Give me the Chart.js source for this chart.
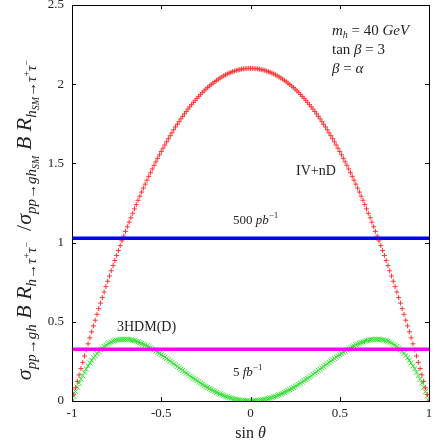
<!DOCTYPE html>
<html>
<head>
<meta charset="utf-8">
<script src="https://cdn.jsdelivr.net/npm/chart.js@4.4.1/dist/chart.umd.min.js"></script>
<style>
  body { margin: 0; background: #fff; }
  #wrap { width: 436px; height: 440px; }
</style>
</head>
<body>
<div id="wrap"><canvas id="grafico" width="436" height="440"></canvas></div>
<script>
// valores (eje x = sin theta)
const sinTheta = [
  -1,-0.99,-0.98,-0.97,-0.96,-0.95,-0.94,-0.93,-0.92,-0.91,
  -0.9,-0.89,-0.88,-0.87,-0.86,-0.85,-0.84,-0.83,-0.82,-0.81,
  -0.8,-0.79,-0.78,-0.77,-0.76,-0.75,-0.74,-0.73,-0.72,-0.71,
  -0.7,-0.69,-0.68,-0.67,-0.66,-0.65,-0.64,-0.63,-0.62,-0.61,
  -0.6,-0.59,-0.58,-0.57,-0.56,-0.55,-0.54,-0.53,-0.52,-0.51,
  -0.5,-0.49,-0.48,-0.47,-0.46,-0.45,-0.44,-0.43,-0.42,-0.41,
  -0.4,-0.39,-0.38,-0.37,-0.36,-0.35,-0.34,-0.33,-0.32,-0.31,
  -0.3,-0.29,-0.28,-0.27,-0.26,-0.25,-0.24,-0.23,-0.22,-0.21,
  -0.2,-0.19,-0.18,-0.17,-0.16,-0.15,-0.14,-0.13,-0.12,-0.11,
  -0.1,-0.09,-0.08,-0.07,-0.06,-0.05,-0.04,-0.03,-0.02,-0.01,
  0,
  0.01,0.02,0.03,0.04,0.05,0.06,0.07,0.08,0.09,0.1,
  0.11,0.12,0.13,0.14,0.15,0.16,0.17,0.18,0.19,0.2,
  0.21,0.22,0.23,0.24,0.25,0.26,0.27,0.28,0.29,0.3,
  0.31,0.32,0.33,0.34,0.35,0.36,0.37,0.38,0.39,0.4,
  0.41,0.42,0.43,0.44,0.45,0.46,0.47,0.48,0.49,0.5,
  0.51,0.52,0.53,0.54,0.55,0.56,0.57,0.58,0.59,0.6,
  0.61,0.62,0.63,0.64,0.65,0.66,0.67,0.68,0.69,0.7,
  0.71,0.72,0.73,0.74,0.75,0.76,0.77,0.78,0.79,0.8,
  0.81,0.82,0.83,0.84,0.85,0.86,0.87,0.88,0.89,0.9,
  0.91,0.92,0.93,0.94,0.95,0.96,0.97,0.98,0.99,1
];

// IV+nD (cruces rojas)
const ivnD = [
  0.000,0.042,0.083,0.124,0.165,0.205,0.244,0.284,0.323,0.361,
  0.399,0.437,0.474,0.510,0.547,0.583,0.618,0.653,0.688,0.722,
  0.756,0.789,0.822,0.855,0.887,0.919,0.950,0.981,1.011,1.041,
  1.071,1.100,1.129,1.157,1.185,1.213,1.240,1.267,1.293,1.319,
  1.344,1.369,1.394,1.418,1.441,1.465,1.488,1.510,1.532,1.554,
  1.575,1.596,1.616,1.636,1.656,1.675,1.693,1.712,1.730,1.747,
  1.764,1.781,1.797,1.813,1.828,1.843,1.857,1.871,1.885,1.898,
  1.911,1.923,1.935,1.947,1.958,1.969,1.979,1.989,1.998,2.007,
  2.016,2.024,2.032,2.039,2.046,2.053,2.059,2.065,2.070,2.075,
  2.079,2.083,2.087,2.090,2.092,2.095,2.097,2.098,2.099,2.100,
  2.100,
  2.100,2.099,2.098,2.097,2.095,2.092,2.090,2.087,2.083,2.079,
  2.075,2.070,2.065,2.059,2.053,2.046,2.039,2.032,2.024,2.016,
  2.007,1.998,1.989,1.979,1.969,1.958,1.947,1.935,1.923,1.911,
  1.898,1.885,1.871,1.857,1.843,1.828,1.813,1.797,1.781,1.764,
  1.747,1.730,1.712,1.693,1.675,1.656,1.636,1.616,1.596,1.575,
  1.554,1.532,1.510,1.488,1.465,1.441,1.418,1.394,1.369,1.344,
  1.319,1.293,1.267,1.240,1.213,1.185,1.157,1.129,1.100,1.071,
  1.041,1.011,0.981,0.950,0.919,0.887,0.855,0.822,0.789,0.756,
  0.722,0.688,0.653,0.618,0.583,0.547,0.510,0.474,0.437,0.399,
  0.361,0.323,0.284,0.244,0.205,0.165,0.124,0.083,0.042,0.000
];

// 3HDM(D) (aspas verdes)
const hdm3D = [
  0.000,0.030,0.059,0.087,0.113,0.137,0.160,0.182,0.203,0.222,
  0.240,0.257,0.273,0.287,0.300,0.313,0.324,0.334,0.344,0.352,
  0.359,0.366,0.372,0.377,0.381,0.384,0.386,0.388,0.389,0.390,
  0.390,0.389,0.388,0.386,0.384,0.381,0.377,0.373,0.369,0.364,
  0.359,0.354,0.348,0.342,0.336,0.329,0.322,0.315,0.308,0.300,
  0.293,0.285,0.277,0.268,0.260,0.252,0.243,0.235,0.227,0.218,
  0.210,0.201,0.193,0.184,0.176,0.168,0.159,0.151,0.143,0.136,
  0.128,0.120,0.113,0.105,0.098,0.091,0.085,0.078,0.072,0.066,
  0.060,0.054,0.049,0.044,0.039,0.034,0.030,0.026,0.022,0.019,
  0.015,0.013,0.010,0.008,0.006,0.004,0.002,0.001,0.001,0.000,
  0.000,
  0.000,0.001,0.001,0.002,0.004,0.006,0.008,0.010,0.013,0.015,
  0.019,0.022,0.026,0.030,0.034,0.039,0.044,0.049,0.054,0.060,
  0.066,0.072,0.078,0.085,0.091,0.098,0.105,0.113,0.120,0.128,
  0.136,0.143,0.151,0.159,0.168,0.176,0.184,0.193,0.201,0.210,
  0.218,0.227,0.235,0.243,0.252,0.260,0.268,0.277,0.285,0.293,
  0.300,0.308,0.315,0.322,0.329,0.336,0.342,0.348,0.354,0.359,
  0.364,0.369,0.373,0.377,0.381,0.384,0.386,0.388,0.389,0.390,
  0.390,0.389,0.388,0.386,0.384,0.381,0.377,0.372,0.366,0.359,
  0.352,0.344,0.334,0.324,0.313,0.300,0.287,0.273,0.257,0.240,
  0.222,0.203,0.182,0.160,0.137,0.113,0.087,0.059,0.030,0.000
];

// lineas horizontales de sensibilidad
const lineaX = [-1, 1];
const lumi500pb = [1.028, 1.028];
const lumi5fb = [0.327, 0.327];

const xTicks = [-1, -0.5, 0, 0.5, 1];
const yTicks = [0, 0.5, 1, 1.5, 2, 2.5];

const SERIF = '"Liberation Serif", "DejaVu Serif", serif';

function puntos(xs, ys) {
  return xs.map((x, i) => ({ x: x, y: ys[i] }));
}

// texto con subindices / superindices
// partes: [texto, tamaño, desplazamiento vertical, cursiva]
function textoRico(ctx, partes, x, y, align, angulo) {
  ctx.save();
  ctx.translate(x, y);
  if (angulo) ctx.rotate(angulo);
  ctx.textBaseline = "alphabetic";
  ctx.textAlign = "left";
  let ancho = 0;
  for (const p of partes) {
    ctx.font = (p[3] ? "italic " : "") + p[1] + "px " + SERIF;
    ancho += ctx.measureText(p[0]).width;
  }
  let cx = align === "center" ? -ancho / 2 : 0;
  for (const p of partes) {
    ctx.font = (p[3] ? "italic " : "") + p[1] + "px " + SERIF;
    ctx.fillText(p[0], cx, p[2]);
    cx += ctx.measureText(p[0]).width;
  }
  ctx.restore();
}

const marcoYTextos = {
  id: "marcoYTextos",
  afterDraw(chart) {
    const ctx = chart.ctx;
    const a = chart.chartArea;
    const sx = chart.scales.x;
    const sy = chart.scales.y;

    // marco
    ctx.save();
    ctx.strokeStyle = "#000";
    ctx.lineWidth = 1;
    ctx.strokeRect(Math.round(a.left) + 0.5, Math.round(a.top) + 0.5,
      Math.round(a.right - a.left), Math.round(a.bottom - a.top));

    // marcas hacia dentro, en los cuatro lados
    const L = 4;
    ctx.beginPath();
    for (const v of xTicks) {
      const px = Math.round(sx.getPixelForValue(v)) + 0.5;
      ctx.moveTo(px, a.bottom); ctx.lineTo(px, a.bottom - L);
      ctx.moveTo(px, a.top); ctx.lineTo(px, a.top + L);
    }
    for (const v of yTicks) {
      const py = Math.round(sy.getPixelForValue(v)) + 0.5;
      ctx.moveTo(a.left, py); ctx.lineTo(a.left + L, py);
      ctx.moveTo(a.right, py); ctx.lineTo(a.right - L, py);
    }
    ctx.stroke();
    ctx.restore();

    ctx.save();
    ctx.fillStyle = "#222";

    // titulo eje x
    textoRico(ctx, [["sin ", 16, 0, false], ["θ", 16, 0, true]],
      (a.left + a.right) / 2, 438, "center");

    // titulo eje y
    const B = 22, S = 15, SS = 10;
    textoRico(ctx, [
      ["σ", B, 0, true], ["pp→gh", S, 5, true], [" ", B, 0, false],
      ["B R", B, 0, true], ["h→τ", S, 5, true], ["+", SS, -1, false],
      ["τ", S, 5, true], ["−", SS, -1, false], ["  /", B, 0, false],
      ["σ", B, 0, true], ["pp→gh", S, 5, true], ["SM", SS, 8, true],
      [" ", B, 0, false], ["B R", B, 0, true], ["h", S, 5, true],
      ["SM", SS, 8, true], ["→τ", S, 5, true], ["+", SS, -1, false],
      ["τ", S, 5, true], ["−", SS, -1, false]
    ], 31, 220, "center", -Math.PI / 2);

    // textos dentro de la grafica
    const F = 15;
    textoRico(ctx, [["m", F, 0, true], ["h", 10, 3, true], [" = 40 ", F, 0, false], ["GeV", F, 0, true]], 332, 35);
    textoRico(ctx, [["tan ", F, 0, false], ["β", F, 0, true], [" = 3", F, 0, false]], 332, 54);
    textoRico(ctx, [["β", F, 0, true], [" = ", F, 0, false], ["α", F, 0, true]], 332, 73);

    textoRico(ctx, [["IV+nD", 14, 0, false]], 296, 175);
    textoRico(ctx, [["500 ", 13, 0, false], ["pb", 13, 0, true], ["−1", 9, -6, false]], 233, 224);
    textoRico(ctx, [["3HDM(D)", 14, 0, false]], 117, 331);
    textoRico(ctx, [["5 ", 13, 0, false], ["fb", 13, 0, true], ["−1", 9, -6, false]], 233, 376);
    ctx.restore();
  }
};

const ctx = document.getElementById("grafico").getContext("2d");

window.grafico = new Chart(ctx, {
  type: "scatter",
  data: {
    datasets: [
      {
        label: "5 fb-1",
        data: puntos(lineaX, lumi5fb),
        showLine: true,
        borderColor: "#ff00ff",
        borderWidth: 3.5,
        pointRadius: 0
      },
      {
        label: "500 pb-1",
        data: puntos(lineaX, lumi500pb),
        showLine: true,
        borderColor: "#0000ff",
        borderWidth: 3.5,
        pointRadius: 0
      },
      {
        label: "IV+nD",
        data: puntos(sinTheta, ivnD),
        showLine: false,
        pointStyle: "cross",
        pointRadius: 2.5,
        borderWidth: 1,
        borderColor: "#ff3535",
        backgroundColor: "#ff3535"
      },
      {
        label: "3HDM(D)",
        data: puntos(sinTheta, hdm3D),
        showLine: false,
        pointStyle: "crossRot",
        pointRadius: 3.5,
        borderWidth: 1,
        borderColor: "#2ee02e",
        backgroundColor: "#2ee02e"
      }
    ]
  },
  options: {
    responsive: false,
    animation: false,
    events: [],
    layout: { padding: { left: 0, right: 7, top: 3, bottom: 0 } },
    plugins: {
      legend: { display: false },
      tooltip: { enabled: false }
    },
    scales: {
      x: {
        type: "linear",
        min: -1,
        max: 1,
        afterFit: s => { s.height = 39; s.paddingLeft = 0; s.paddingRight = 0; },
        afterBuildTicks: s => { s.ticks = xTicks.map(v => ({ value: v })); },
        grid: { display: false, drawTicks: false },
        border: { display: false },
        ticks: {
          padding: 5,
          color: "#222",
          font: { family: SERIF, size: 13 },
          callback: v => String(v)
        }
      },
      y: {
        type: "linear",
        min: 0,
        max: 2.5,
        afterFit: s => { s.width = 72; s.paddingTop = 0; s.paddingBottom = 0; },
        afterBuildTicks: s => { s.ticks = yTicks.map(v => ({ value: v })); },
        grid: { display: false, drawTicks: false },
        border: { display: false },
        ticks: {
          padding: 8,
          color: "#222",
          font: { family: SERIF, size: 13 },
          callback: v => String(v)
        }
      }
    }
  },
  plugins: [marcoYTextos]
});
</script>
</body>
</html>
